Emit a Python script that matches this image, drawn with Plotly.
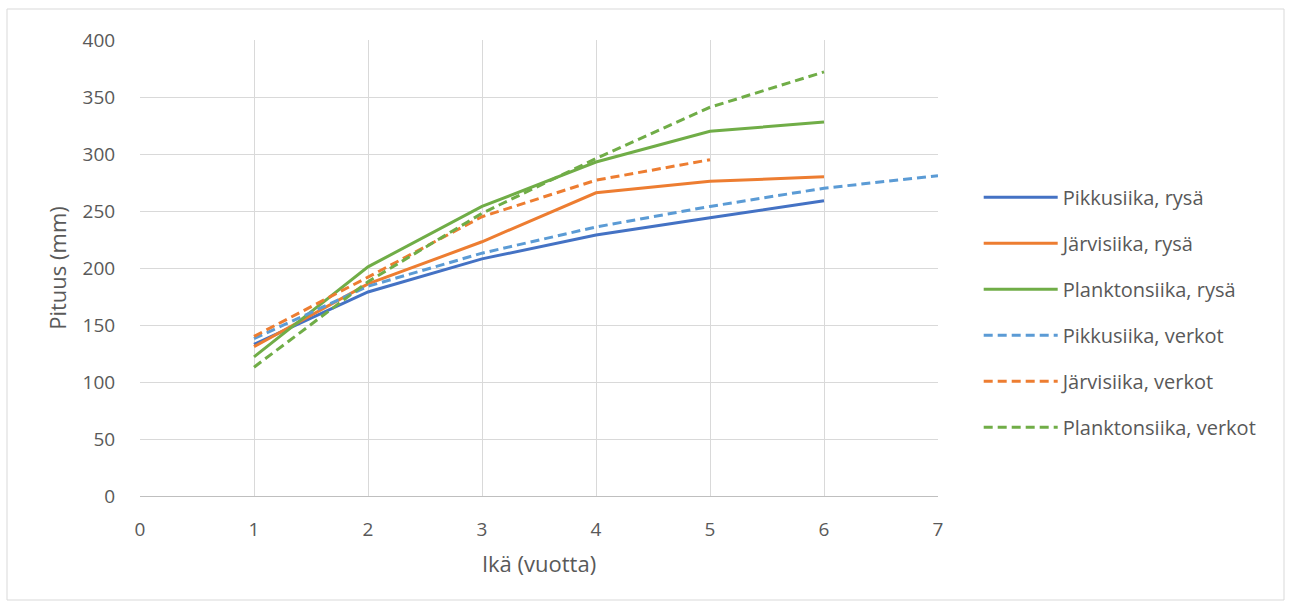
import plotly.graph_objects as go

# Age in years
age = [1, 2, 3, 4, 5, 6, 7]

# Mean length (mm) by age, trap-net catch (rysä)
pikkusiika_rysa = [133, 179, 208, 229, 244, 259]
jarvisiika_rysa = [131, 186, 223, 266, 276, 280]
planktonsiika_rysa = [122, 201, 254, 293, 320, 328]

# Mean length (mm) by age, gill-net catch (verkot)
pikkusiika_verkot = [138, 184, 213, 236, 254, 270, 281]
jarvisiika_verkot = [140, 192, 245, 277, 295]
planktonsiika_verkot = [113, 188, 248, 296, 341, 372]

series = [
    ("Pikkusiika, rysä", pikkusiika_rysa, "#4472C4", "solid"),
    ("Järvisiika, rysä", jarvisiika_rysa, "#ED7D31", "solid"),
    ("Planktonsiika, rysä", planktonsiika_rysa, "#70AD47", "solid"),
    ("Pikkusiika, verkot", pikkusiika_verkot, "#5B9BD5", "9px,5px"),
    ("Järvisiika, verkot", jarvisiika_verkot, "#ED7D31", "9px,5px"),
    ("Planktonsiika, verkot", planktonsiika_verkot, "#70AD47", "9px,5px"),
]

FONT = "'Open Sans', sans-serif"
TEXT = "#595959"
GRID = "#D9D9D9"

fig = go.Figure()
for i, (name, vals, color, dash) in enumerate(series):
    fig.add_trace(go.Scatter(
        x=age[:len(vals)], y=vals, name=name, mode="lines",
        legendgroup=f"g{i}",
        line=dict(color=color, width=3, dash=dash),
    ))

W, H = 1291, 608
L, R, T, B = 140, 353, 40, 112
pw, ph = W - L - R, H - T - B

fig.update_layout(
    width=W, height=H,
    margin=dict(l=L, r=R, t=T, b=B, autoexpand=False),
    paper_bgcolor="white", plot_bgcolor="white",
    font=dict(family=FONT, size=19, color=TEXT),
    showlegend=True,
    legend=dict(
        x=1.051, xanchor="left", y=0.403, yanchor="middle",
        font=dict(family=FONT, size=20, color=TEXT),
        tracegroupgap=17, itemwidth=74,
        bgcolor="rgba(0,0,0,0)",
    ),
    xaxis=dict(
        range=[0, 7], dtick=1, tick0=0,
        showgrid=True, gridcolor=GRID, gridwidth=1,
        zeroline=False, showline=True, linecolor="#BFBFBF", linewidth=1,
        ticks="outside", ticklen=16, tickcolor="rgba(0,0,0,0)",
        tickfont=dict(size=19, color=TEXT),
        title=dict(text="Ikä (vuotta)", font=dict(size=22, color=TEXT), standoff=15),
    ),
    yaxis=dict(
        range=[0, 400], dtick=50, tick0=0,
        showgrid=True, gridcolor=GRID, gridwidth=1,
        zeroline=False, showline=False,
        ticks="outside", ticklen=20, tickcolor="rgba(0,0,0,0)",
        tickfont=dict(size=19, color=TEXT),
        title=dict(text="Pituus (mm)", font=dict(size=22, color=TEXT), standoff=9),
    ),
)

# Outer chart border
fig.add_shape(
    type="rect", xref="paper", yref="paper",
    x0=(7 - L) / pw, x1=(W - 7 - L) / pw,
    y0=-(600 - (T + ph)) / ph, y1=1 + (T - 9) / ph,
    line=dict(color="#D9D9D9", width=1), fillcolor="rgba(0,0,0,0)", layer="below",
)

fig.write_html("out.html")
